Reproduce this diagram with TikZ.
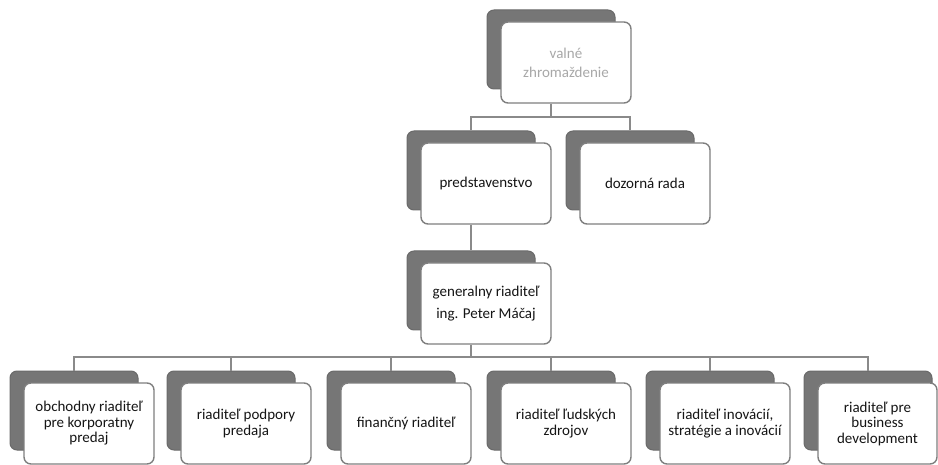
\documentclass[tikz,border=0pt]{standalone}
\usepackage{fontspec}
\setmainfont{Carlito}
\definecolor{shadowgray}{HTML}{767676}
\definecolor{shadowedge}{HTML}{6A6A6A}
\definecolor{frontedge}{HTML}{7F7F7F}
\definecolor{linegray}{HTML}{8A8A8A}
\definecolor{textcol}{HTML}{151515}
\definecolor{fadetext}{HTML}{A8A8A8}
\tikzset{
  shadowbox/.style={draw=shadowedge, fill=shadowgray, rounded corners=7pt, line width=1pt,
    inner sep=0pt, minimum width=128pt, minimum height=79pt},
  frontbox/.style={draw=frontedge, fill=white, rounded corners=7pt, line width=1.4pt,
    inner sep=0pt, minimum width=130pt, minimum height=81pt, align=center, text=textcol,
    font=\fontsize{15}{15.5}\selectfont},
  conn/.style={draw=linegray, line width=1.2pt}
}
% #1 name, #2 shadow left x, #3 shadow top y, #4 text, #5 extra front options
\newcommand\orgunit[5]{%
  \node[shadowbox] (#1S) at (#2+64,#3+39.5) {};
  \node[frontbox,#5] (#1) at (#2+79,#3+52.5) {#4};
}
\begin{document}
\begin{tikzpicture}[x=1pt,y=-1pt]
\useasboundingbox (0,0) rectangle (938,465);
\fill[white] (0,0) rectangle (938,465);
\coordinate (bus1) at (0,117);
\coordinate (bus2) at (0,357);
\orgunit{vz}{487}{10}{valné\\zhromaždenie}{text=fadetext, font=\fontsize{15}{19}\selectfont}
\orgunit{pred}{407}{131}{predstavenstvo}{}
\orgunit{doz}{566}{131}{dozorná rada}{}
\orgunit{gen}{407}{251}{generalny riaditeľ\\ing. Peter Máčaj}{font=\fontsize{15}{22}\selectfont}
\orgunit{b1}{10}{371}{obchodny riaditeľ\\pre korporatny\\predaj}{}
\orgunit{b2}{167}{371}{riaditeľ podpory\\predaja}{}
\orgunit{b3}{327}{371}{finančný riaditeľ}{}
\orgunit{b4}{487}{371}{riaditeľ ľudských\\zdrojov}{}
\orgunit{b5}{646}{371}{riaditeľ inovácií,\\stratégie a inovácií}{}
\orgunit{b6}{804}{371}{riaditeľ pre\\business\\development}{minimum width=119pt, xshift=-5.5pt}
% connectors
\draw[conn] (vzS.center |- vz.south) -- (vzS.center |- bus1);
\draw[conn] (predS.north) -- (predS.north |- bus1) -- (dozS.north |- bus1) -- (dozS.north);
\draw[conn] (predS.center |- pred.south) -- (genS.north);
\draw[conn] (genS.center |- gen.south) -- (genS.center |- bus2);
\draw[conn] (b1S.north) -- (b1S.north |- bus2) -- (b6S.north |- bus2) -- (b6S.north);
\draw[conn] (b2S.north) -- (b2S.north |- bus2);
\draw[conn] (b3S.north) -- (b3S.north |- bus2);
\draw[conn] (b4S.north) -- (b4S.north |- bus2);
\draw[conn] (b5S.north) -- (b5S.north |- bus2);
\end{tikzpicture}
\end{document}
